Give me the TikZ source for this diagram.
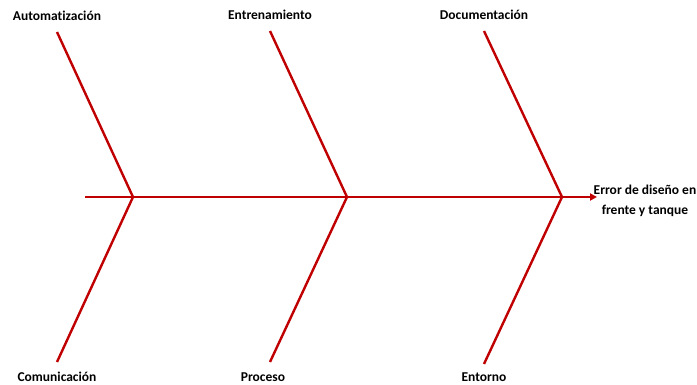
\documentclass[tikz,border=0pt]{standalone}
\usepackage{fontspec}
\setmainfont[Ligatures=NoCommon]{Carlito}
\usetikzlibrary{arrows.meta}
\definecolor{bone}{RGB}{192,0,0}
\begin{document}
\begin{tikzpicture}[x=1pt,y=-1pt,
  bone/.style={draw=bone,line width=2.4pt},
  cause/.style={font=\bfseries\fontsize{13.5}{16}\selectfont,inner sep=0pt},
  effect/.style={font=\bfseries\fontsize{13.5}{20}\selectfont,align=center,inner sep=0pt}]
\useasboundingbox (0,0) rectangle (697,385);
% spine
\coordinate (tail) at (85,197);
\coordinate (j1) at (133,197);
\coordinate (j2) at (347,197);
\coordinate (j3) at (562,197);
\node[effect] (eff) at (645,201) {Error de diseño en\\frente y tanque};
\coordinate (head) at (597,197);
% branch ends
\coordinate (t1) at (57,32);
\coordinate (t2) at (270,31);
\coordinate (t3) at (484,31);
\coordinate (b1) at (57,362);
\coordinate (b2) at (270,362);
\coordinate (b3) at (484,364);
% labels
\node[cause] (l1) at (57,16) {Automatización};
\node[cause] (l2) at (270,15) {Entrenamiento};
\node[cause] (l3) at (484,15) {Documentación};
\node[cause] (l4) at (57,377) {Comunicación};
\node[cause] (l5) at (263,377) {Proceso};
\node[cause] (l6) at (484,377) {Entorno};
% bones
\draw[bone,-{Triangle[length=7pt,width=7pt]}] (tail) -- (head);
\draw[bone] (t1) -- (j1) -- (b1);
\draw[bone] (t2) -- (j2) -- (b2);
\draw[bone] (t3) -- (j3) -- (b3);
\end{tikzpicture}
\end{document}
